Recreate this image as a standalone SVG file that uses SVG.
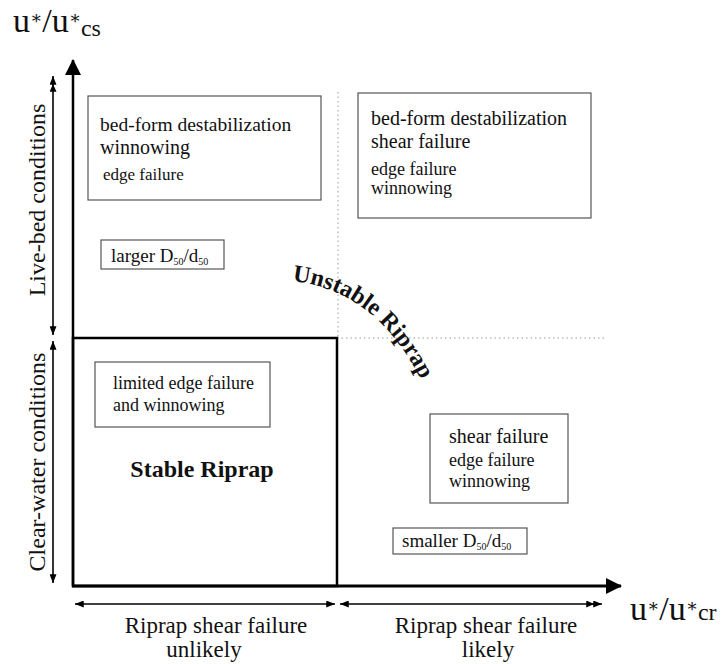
<svg xmlns="http://www.w3.org/2000/svg" width="724" height="664" viewBox="0 0 724 664" font-family="'Liberation Serif', 'DejaVu Serif', 'Times New Roman', serif">
<style>
text{font-family:'Liberation Serif','DejaVu Serif','Times New Roman',serif;fill:#111}
.box{fill:#fff;stroke:#555;stroke-width:1.2}
.axis{stroke:#000;stroke-width:2.5;fill:none}
.dim{stroke:#000;stroke-width:1.6;fill:none}
.dot{stroke:#999;stroke-width:1;stroke-dasharray:1.5 3;fill:none}
.t18{font-size:18px}
.t20{font-size:20px}
.t23{font-size:23px}
.t24{font-size:24px}
</style>
<defs>
<marker id="bigArrow" viewBox="0 0 16 16" refX="15" refY="8" markerWidth="16" markerHeight="16" markerUnits="userSpaceOnUse" orient="auto">
<path d="M0,0 L16,8 L0,16 z" fill="#000"/>
</marker>
<marker id="head" viewBox="0 0 10 8" refX="10" refY="4" markerWidth="9" markerHeight="7" markerUnits="userSpaceOnUse" orient="auto-start-reverse">
<path d="M0,0 L10,4 L0,8 z" fill="#000"/>
</marker>
<marker id="dhead" viewBox="0 0 18 8" refX="18" refY="4" markerWidth="16" markerHeight="7" markerUnits="userSpaceOnUse" orient="auto-start-reverse">
<path d="M0,0 L9,4 L0,8 z M8,0 L18,4 L8,8 z" fill="#000"/>
</marker>
<path id="arc" d="M292,281 Q386,291 432,404"/>
</defs>

<g id="connectors">
<line class="axis" x1="73" y1="586" x2="73" y2="60" marker-end="url(#bigArrow)"/>
<line class="axis" x1="72" y1="586" x2="621" y2="586" marker-end="url(#bigArrow)" style="stroke-width:3"/>
<line class="dot" x1="338" y1="92" x2="338" y2="338"/>
<line class="dot" x1="337" y1="338" x2="606" y2="338"/>
<line class="dim" x1="53" y1="335" x2="53" y2="76" marker-end="url(#dhead)" marker-start="url(#head)"/>
<line class="dim" x1="53" y1="341" x2="53" y2="583" marker-end="url(#head)" marker-start="url(#head)"/>
<line class="dim" x1="75" y1="604" x2="335" y2="604" marker-end="url(#head)" marker-start="url(#head)"/>
<line class="dim" x1="340" y1="604" x2="602" y2="604" marker-end="url(#dhead)" marker-start="url(#head)"/>
</g>

<g id="stable-region">
<rect x="73" y="338" width="264" height="248" fill="none" stroke="#000" stroke-width="2.5"/>
<text x="202" y="477" text-anchor="middle" font-size="24" font-weight="bold">Stable Riprap</text>
</g>

<g id="axis-y-label">
<text x="13" y="32" font-size="34">u<tspan font-size="18" dy="-8">∗</tspan><tspan dy="8">/u</tspan><tspan font-size="18" dy="-8">∗</tspan><tspan font-size="24" dy="12">cs</tspan></text>
</g>
<g id="axis-x-label">
<text x="630" y="620" font-size="34">u<tspan font-size="18" dy="-8">∗</tspan><tspan dy="8">/u</tspan><tspan font-size="18" dy="-8">∗</tspan><tspan font-size="24" dy="8">cr</tspan></text>
</g>

<g id="live-bed-label">
<text class="t24" transform="translate(45,200) rotate(-90)" text-anchor="middle">Live-bed conditions</text>
</g>
<g id="clear-water-label">
<text class="t24" transform="translate(45,462) rotate(-90)" text-anchor="middle">Clear-water conditions</text>
</g>

<g id="unlikely-label">
<text class="t23" x="216" y="633" text-anchor="middle">Riprap shear failure</text>
<text class="t23" x="204" y="657" text-anchor="middle">unlikely</text>
</g>
<g id="likely-label">
<text class="t23" x="486" y="633" text-anchor="middle">Riprap shear failure</text>
<text class="t23" x="488" y="657" text-anchor="middle">likely</text>
</g>

<g id="box-livebed-left">
<rect class="box" x="88" y="96" width="233" height="104"/>
<text font-size="19.5" x="100" y="131">bed-form destabilization</text>
<text class="t20" x="100" y="154">winnowing</text>
<text font-size="17" x="103" y="180">edge failure</text>
</g>

<g id="box-larger">
<rect class="box" x="101" y="240" width="123" height="29"/>
<text font-size="19" x="111" y="262">larger D<tspan font-size="10" dy="3">50</tspan><tspan dy="-3">/d</tspan><tspan font-size="10" dy="3">50</tspan></text>
</g>

<g id="box-livebed-right">
<rect class="box" x="358" y="93" width="233" height="125"/>
<text class="t20" x="371" y="125">bed-form destabilization</text>
<text class="t20" x="371" y="148">shear failure</text>
<text class="t18" x="371" y="175">edge failure</text>
<text class="t18" x="371" y="194">winnowing</text>
</g>

<g id="unstable-label">
<text font-size="24" font-weight="bold"><textPath href="#arc">Unstable Riprap</textPath></text>
</g>

<g id="box-limited">
<rect class="box" x="95" y="362" width="175" height="65"/>
<text class="t18" x="113" y="389">limited edge failure</text>
<text class="t18" x="113" y="411">and winnowing</text>
</g>

<g id="box-shear">
<rect class="box" x="430" y="414" width="138" height="89"/>
<text class="t20" x="449" y="443">shear failure</text>
<text class="t18" x="449" y="466">edge failure</text>
<text class="t18" x="449" y="487">winnowing</text>
</g>

<g id="box-smaller">
<rect class="box" x="393" y="528" width="134" height="26"/>
<text font-size="19" x="402" y="547">smaller D<tspan font-size="10" dy="3">50</tspan><tspan dy="-3">/d</tspan><tspan font-size="10" dy="3">50</tspan></text>
</g>
</svg>
